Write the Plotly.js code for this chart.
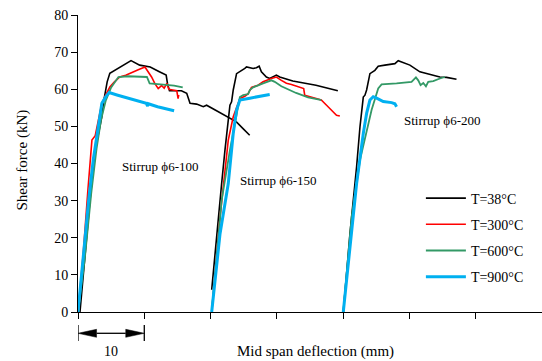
<!DOCTYPE html>
<html>
<head>
<meta charset="utf-8">
<script src="https://cdn.plot.ly/plotly-3.0.1.min.js"></script>
<style>html,body{margin:0;padding:0;background:#fff;}#chart{width:542px;height:361px;}</style>
</head>
<body>
<div id="chart"></div>
<script>
// ---- Data (deflection relative to each specimen's start, shear force in kN) ----
const groupOffset = [0, 20, 40];
const groupLabels = ['Stirrup \u03d56-100', 'Stirrup \u03d56-150', 'Stirrup \u03d56-200'];
const groupLabelX = [12.4, 10.2, 15.0];
const groupLabelY = [39.1, 35.5, 51.6];
const tempLabels = ['T=38\u00b0C', 'T=300\u00b0C', 'T=600\u00b0C', 'T=900\u00b0C'];
const scaleBar = [0, 10];

// Stirrup 6-100
const t38_100_x = [0.3, 1.0, 1.8, 2.6, 3.2, 3.6, 3.9, 4.4, 4.8, 5.6, 6.5, 8.0, 9.3, 10.9, 12.2, 13.3, 13.5, 13.8, 15.6, 16.4, 16.9, 17.9, 18.9, 19.4, 20.7, 22.4, 23.9, 24.9, 25.9];
const t38_100_y = [0, 14, 30, 43.6, 49, 52.6, 57, 62, 64.3, 65.1, 66, 67.7, 66.5, 66.0, 64.8, 63.8, 61.5, 59.6, 59.6, 58.9, 56.2, 56.0, 55.3, 55.7, 54.4, 52.6, 51.2, 49.4, 47.6];
const t300_100_x = [0, 0.8, 1.5, 2.1, 2.6, 3.1, 3.6, 4.2, 4.8, 5.5, 6.3, 7.2, 8.1, 9.0, 10.1, 10.5, 11.1, 11.6, 12.1, 12.6, 13.0, 13.4, 13.7, 14.3, 14.9, 15.1, 15.2];
const t300_100_y = [0, 16, 33, 46.3, 47.5, 52, 56.2, 58.5, 60.6, 62, 63.3, 63.8, 64.4, 65.2, 66, 65, 63.3, 61.5, 60.2, 61, 60.3, 61.6, 60, 59.8, 59.6, 57.5, 58.5];
const t600_100_x = [0, 1.0, 2.0, 2.8, 3.5, 4.2, 5.0, 6.1, 7.5, 9.0, 10.4, 10.8, 11.5, 13.0, 14.5, 15.8];
const t600_100_y = [0, 14, 32, 44, 52, 57, 60.5, 63.3, 63.5, 63.4, 63.3, 61.6, 61.5, 61.3, 61.0, 60.5];
const t900_100_x = [0, 0.8, 1.6, 2.3, 3.1, 3.6, 4.2, 4.7, 6.0, 7.5, 9.0, 10.3, 10.5, 10.6, 12.0, 13.3, 14.5];
const t900_100_y = [0, 15, 30, 41, 49.9, 56.2, 58, 59.1, 58.4, 57.6, 56.9, 56.2, 55.5, 56.1, 55.3, 54.7, 54.2];

// Stirrup 6-150
const t38_150_x = [0.17, 0.92, 1.67, 2.17, 2.67, 2.92, 3.17, 3.42, 3.92, 4.42, 4.67, 5.17, 5.42, 6.42, 6.92, 7.33, 7.67, 8.42, 8.92, 9.93, 10.43, 12.4, 15.9, 19.2];
const t38_150_y = [6.0, 21.1, 34.6, 43.6, 52.6, 55.7, 56.6, 59.8, 64.2, 64.7, 65.1, 65.6, 66.0, 65.6, 65.8, 66.2, 64.7, 63.3, 62.9, 63.8, 63.3, 62.2, 61.1, 59.6];
const t300_150_x = [0.17, 1.43, 2.67, 3.42, 4.42, 5.17, 5.67, 6.17, 7.17, 7.92, 9.18, 9.93, 10.68, 11.44, 12.2, 13.45, 14.05, 14.2, 15.46, 16.7, 17.5, 18.5, 19.0, 19.5];
const t300_150_y = [0, 25.6, 46.3, 52.6, 57.5, 58.1, 58.8, 60.5, 61.1, 62.0, 62.9, 63.3, 62.4, 61.6, 61.3, 60.5, 60.2, 58.4, 57.7, 57.1, 55.7, 53.9, 53.0, 52.8];
const t600_150_x = [0.17, 1.67, 2.92, 3.92, 4.42, 4.92, 5.67, 5.92, 6.42, 7.92, 9.18, 9.68, 10.68, 12.9, 14.7, 16.4, 16.7];
const t600_150_y = [0, 30.1, 43.6, 53.5, 57.9, 58.4, 58.7, 59.8, 60.5, 61.6, 62.4, 62.0, 60.8, 59.0, 57.8, 57.2, 57.1];
const t900_150_x = [0.17, 1.43, 2.67, 3.42, 3.92, 4.42, 5.92, 7.42, 8.92];
const t900_150_y = [0, 21.1, 34.6, 48.1, 54.4, 57.1, 57.6, 58.0, 58.6];

// Stirrup 6-200
const t38_200_x = [0.02, 1.03, 2.03, 2.54, 3.04, 3.29, 3.54, 4.04, 4.79, 5.29, 6.30, 7.81, 8.31, 8.81, 10.07, 11.58, 13.08, 14.59, 15.6, 17.1];
const t38_200_y = [0, 21.1, 39.1, 49.9, 57.9, 58.4, 59.8, 64.2, 65.1, 66.2, 66.5, 66.9, 67.7, 67.4, 66.5, 64.7, 64.0, 63.3, 63.2, 62.7];
const t600_200_x = [0.02, 1.28, 2.54, 3.54, 4.29, 5.29, 5.80, 8.06, 10.32, 10.98, 11.33, 11.68, 12.09, 12.49, 12.84, 13.59, 14.1, 14.6, 15.35];
const t600_200_y = [0, 25.6, 40.9, 49.0, 54.4, 60.2, 61.3, 61.6, 62.0, 63.2, 62.4, 61.1, 61.7, 60.8, 62.0, 62.2, 62.6, 62.9, 63.3];
const t900_200_x = [0.02, 1.03, 2.03, 3.04, 3.54, 4.04, 4.54, 5.05, 6.05, 7.31, 7.81, 8.06];
const t900_200_y = [0, 18.4, 34.6, 48.1, 53.5, 57.1, 58.0, 57.6, 56.7, 56.4, 56.1, 55.3];

const series = [
  [[t38_100_x, t38_100_y], [t38_150_x, t38_150_y], [t38_200_x, t38_200_y]],
  [[t300_100_x, t300_100_y], [t300_150_x, t300_150_y], null],
  [[t600_100_x, t600_100_y], [t600_150_x, t600_150_y], [t600_200_x, t600_200_y]],
  [[t900_100_x, t900_100_y], [t900_150_x, t900_150_y], [t900_200_x, t900_200_y]]
];

// ---- Styles ----
const colors = ['#000000', '#ff0000', '#339966', '#00b0f0'];
const widths = [1.6, 1.6, 1.8, 3];
const FONT = 'Liberation Serif, Times New Roman, serif';

const traces = [];
series.forEach((groups, t) => {
  let first = true;
  groups.forEach((g, gi) => {
    if (!g) return;
    traces.push({
      type: 'scatter', mode: 'lines',
      x: g[0].map(v => v + groupOffset[gi]), y: g[1],
      name: tempLabels[t], legendgroup: 'T' + t,
      showlegend: first,
      line: {color: colors[t], width: widths[t]},
      hoverinfo: 'skip'
    });
    first = false;
  });
});

const annotations = groupLabels.map((txt, i) => ({
  x: groupLabelX[i] + groupOffset[i], y: groupLabelY[i], xref: 'x', yref: 'y',
  text: txt, showarrow: false, font: {family: FONT, size: 13, color: '#000'}
}));
annotations.push({x: 0.511, xref: 'paper', y: -0.134, yref: 'paper', yanchor: 'middle', xanchor: 'center',
  text: 'Mid span deflection (mm)', showarrow: false, font: {family: FONT, size: 15, color: '#000'}});
annotations.push({x: -0.1185, xref: 'paper', y: 0.51, yref: 'paper', yanchor: 'middle', xanchor: 'center', textangle: -90,
  text: 'Shear force (kN)', showarrow: false, font: {family: FONT, size: 15, color: '#000'}});
annotations.push({x: (scaleBar[0] + scaleBar[1]) / 2, xref: 'x', y: -0.134, yref: 'paper', yanchor: 'middle',
  text: String(scaleBar[1] - scaleBar[0]), showarrow: false, font: {family: FONT, size: 14, color: '#000'}});

const barY = -0.0717, barTop = -0.0438, barBot = -0.0976, headLen = 2.8, headH = 0.0135;
const shapes = [
  {type: 'line', xref: 'x', yref: 'paper', x0: scaleBar[0], x1: scaleBar[0], y0: barTop, y1: barBot, line: {color: '#000', width: 1.3}},
  {type: 'line', xref: 'x', yref: 'paper', x0: scaleBar[1], x1: scaleBar[1], y0: barTop, y1: barBot, line: {color: '#000', width: 1.3}},
  {type: 'line', xref: 'x', yref: 'paper', x0: scaleBar[0] + headLen, x1: scaleBar[1] - headLen, y0: barY, y1: barY, line: {color: '#000', width: 1.3}},
  {type: 'path', xref: 'x', yref: 'paper', fillcolor: '#000', line: {color: '#000', width: 0.5},
    path: `M${scaleBar[0]},${barY} L${scaleBar[0] + headLen},${barY + headH} L${scaleBar[0] + headLen},${barY - headH} Z`},
  {type: 'path', xref: 'x', yref: 'paper', fillcolor: '#000', line: {color: '#000', width: 0.5},
    path: `M${scaleBar[1]},${barY} L${scaleBar[1] - headLen},${barY + headH} L${scaleBar[1] - headLen},${barY - headH} Z`}
];

const layout = {
  width: 542, height: 361,
  margin: {l: 78, r: 0, t: 15, b: 49},
  paper_bgcolor: '#fff', plot_bgcolor: '#fff',
  font: {family: FONT, size: 13, color: '#000'},
  showlegend: true,
  legend: {x: 0.739, y: 0.436, xanchor: 'left', yanchor: 'top', bgcolor: 'rgba(0,0,0,0)', itemwidth: 40,
    font: {family: FONT, size: 14, color: '#000'}, traceorder: 'grouped', tracegroupgap: 5},
  xaxis: {range: [0, 70], dtick: 10, tick0: 0, showticklabels: false, ticks: 'outside', ticklen: 6,
    tickcolor: '#000', showline: true, linecolor: '#000', linewidth: 1, showgrid: false, zeroline: false, fixedrange: true},
  yaxis: {range: [0, 80], dtick: 10, tick0: 0, ticks: 'outside', ticklen: 6, tickcolor: '#000',
    showline: true, linecolor: '#000', linewidth: 1, showgrid: false, zeroline: false,
    tickfont: {family: FONT, size: 14, color: '#000'}},
  annotations: annotations,
  shapes: shapes
};

Plotly.newPlot('chart', traces, layout, {staticPlot: true, displayModeBar: false});
</script>
</body>
</html>
